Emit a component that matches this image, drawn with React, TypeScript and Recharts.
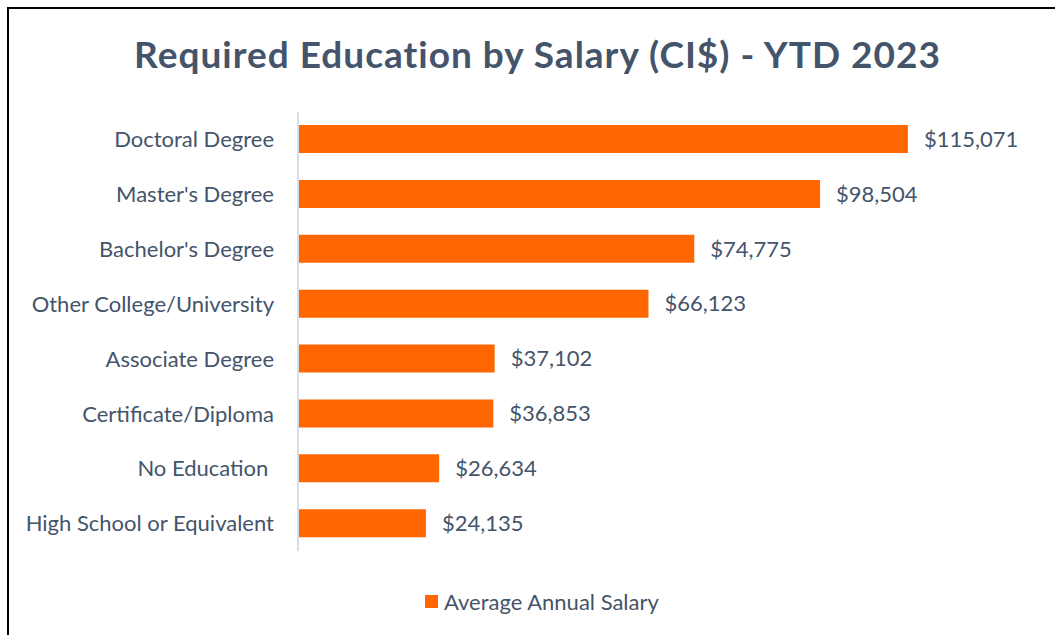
import { BarChart, Bar, XAxis, YAxis, LabelList, Legend } from 'recharts'

const categories = [
  'Doctoral Degree',
  "Master's Degree",
  "Bachelor's Degree",
  'Other College/University',
  'Associate Degree',
  'Certificate/Diploma',
  'No Education\u00a0',
  'High School or Equivalent',
]
const salaries = [115071, 98504, 74775, 66123, 37102, 36853, 26634, 24135]
const seriesName = 'Average Annual Salary'

const TEXT = '#44546A'
const ORANGE = '#FF6600'
const FONT = 'Lato, "Open Sans", sans-serif'

const money = (v: number) => '$' + v.toLocaleString('en-US')

function LegendBox() {
  return (
    <div style={{ display: 'flex', alignItems: 'center', fontFamily: FONT, fontSize: 22, color: TEXT }}>
      <span style={{ width: 13, height: 13, background: ORANGE, display: 'inline-block', marginRight: 6 }} />
      {seriesName}
    </div>
  )
}

export default function App() {
  const data = categories.map((c, i) => ({ name: c, value: salaries[i] }))

  return (
    <div style={{ position: 'absolute', left: 0, top: 0, width: 1055, height: 635, background: '#fff', overflow: 'hidden' }}>
      <div
        style={{
          position: 'absolute',
          left: 7,
          top: 7,
          width: 1100,
          height: 700,
          borderLeft: '2px solid #000',
          borderTop: '2px solid #000',
        }}
      />
      <div
        style={{
          position: 'absolute',
          left: 0,
          top: 31,
          width: 1075,
          textAlign: 'center',
          fontFamily: FONT,
          fontWeight: 700,
          fontSize: 37,
          letterSpacing: 1,
          color: TEXT,
        }}
      >
        Required Education by Salary (CI$) - YTD 2023
      </div>
      <div style={{ position: 'absolute', left: 0, top: 0 }}>
        <BarChart
          width={1055}
          height={635}
          layout="vertical"
          data={data}
          margin={{ top: 112, right: 15, bottom: 57, left: 0 }}
        >
          <XAxis type="number" hide domain={[0, 140000]} />
          <YAxis
            type="category"
            dataKey="name"
            width={298}
            tickLine={false}
            tickSize={0}
            tickMargin={24}
            axisLine={{ stroke: '#D9DDE5', strokeWidth: 2 }}
            tick={{ fill: TEXT, fontSize: 22, fontFamily: FONT }}
            interval={0}
          />
          <Legend
            content={<LegendBox />}
            wrapperStyle={{ left: 425, top: 588, width: 'auto' }}
          />
          <Bar dataKey="value" name={seriesName} fill={ORANGE} barSize={28} isAnimationActive={false}>
            <LabelList
              dataKey="value"
              position="right"
              offset={16}
              formatter={(v: any) => money(Number(v))}
              style={{ fill: TEXT, fontSize: 22, fontFamily: FONT }}
            />
          </Bar>
        </BarChart>
      </div>
    </div>
  )
}
